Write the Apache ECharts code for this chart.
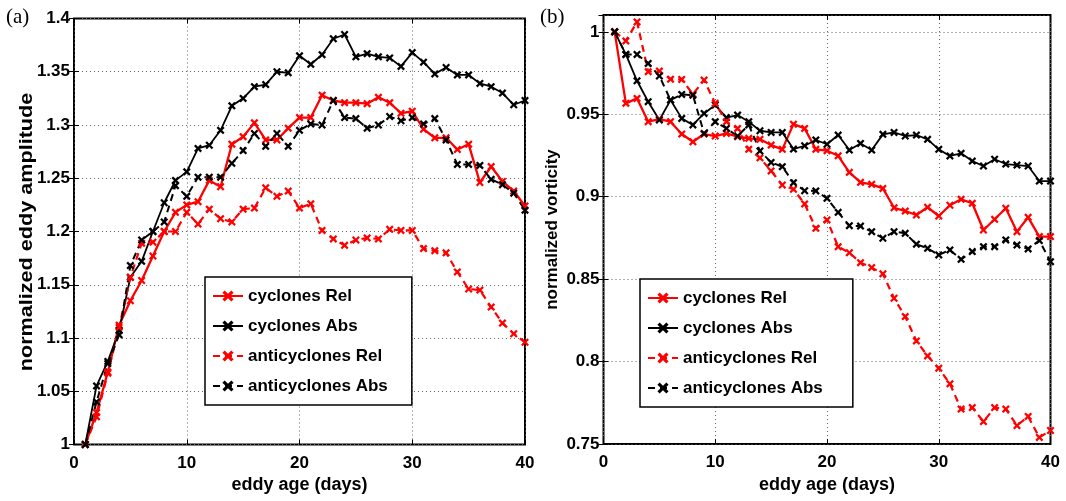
<!DOCTYPE html>
<html>
<head>
<meta charset="utf-8">
<script src="https://cdn.jsdelivr.net/npm/echarts@6/dist/echarts.min.js"></script>
<style>
html,body{margin:0;padding:0;background:#fff;}
#chart{width:1066px;height:501px;}
</style>
</head>
<body>
<div id="chart"></div>
<script>
const days = [1,2,3,4,5,6,7,8,9,10,11,12,13,14,15,16,17,18,19,20,21,22,23,24,25,26,27,28,29,30,31,32,33,34,35,36,37,38,39,40];
const seriesNames = ['cyclones Rel','cyclones Abs','anticyclones Rel','anticyclones Abs'];

// Panel (a): normalized eddy amplitude
const ampCycRel = [1.000,1.030,1.068,1.112,1.135,1.154,1.177,1.200,1.218,1.225,1.228,1.248,1.242,1.282,1.289,1.302,1.286,1.286,1.297,1.307,1.307,1.328,1.323,1.321,1.321,1.320,1.326,1.321,1.311,1.313,1.296,1.288,1.288,1.277,1.282,1.246,1.261,1.247,1.238,1.224];
const ampCycAbs = [1.000,1.055,1.078,1.107,1.157,1.172,1.200,1.227,1.248,1.256,1.278,1.281,1.295,1.318,1.325,1.336,1.338,1.350,1.349,1.365,1.357,1.366,1.381,1.385,1.364,1.367,1.364,1.363,1.355,1.368,1.359,1.348,1.354,1.347,1.347,1.339,1.336,1.330,1.319,1.323];
const ampAntiRel = [1.000,1.026,1.067,1.110,1.157,1.189,1.190,1.200,1.200,1.218,1.207,1.221,1.212,1.209,1.221,1.222,1.241,1.233,1.238,1.222,1.226,1.201,1.193,1.187,1.192,1.194,1.193,1.202,1.201,1.201,1.184,1.182,1.180,1.162,1.146,1.145,1.129,1.114,1.104,1.096];
const ampAntiAbs = [1.000,1.040,1.076,1.103,1.168,1.192,1.200,1.209,1.243,1.233,1.251,1.251,1.251,1.264,1.276,1.292,1.280,1.292,1.280,1.295,1.301,1.300,1.323,1.307,1.306,1.297,1.300,1.308,1.304,1.307,1.301,1.306,1.286,1.263,1.263,1.262,1.249,1.244,1.236,1.220];

// Panel (b): normalized vorticity
const vorCycRel = [1.000,0.9566,0.9596,0.9455,0.947,0.9455,0.938,0.9333,0.938,0.9368,0.9384,0.9364,0.9354,0.9348,0.9313,0.9287,0.944,0.9414,0.9287,0.9279,0.9248,0.9148,0.9087,0.9075,0.905,0.8933,0.8913,0.8889,0.8936,0.8883,0.8948,0.8984,0.896,0.8798,0.8863,0.893,0.8788,0.8875,0.8758,0.8758];
const vorCycAbs = [1.000,0.9863,0.9703,0.9576,0.9465,0.9586,0.9475,0.9435,0.9505,0.9556,0.948,0.9495,0.9455,0.940,0.939,0.939,0.9289,0.9309,0.9344,0.9318,0.9374,0.9283,0.9323,0.9283,0.9378,0.939,0.9368,0.9374,0.9348,0.9287,0.9247,0.9263,0.9216,0.9186,0.9227,0.9198,0.9192,0.9186,0.9095,0.9095];
const vorAntiRel = [1.000,0.9945,1.006,0.9758,0.9762,0.9713,0.9711,0.9622,0.9707,0.9566,0.9455,0.9414,0.9287,0.9236,0.9156,0.9071,0.9045,0.8956,0.8808,0.8859,0.8697,0.866,0.860,0.857,0.8532,0.8384,0.8273,0.8125,0.8034,0.796,0.7865,0.7712,0.7721,0.7636,0.7721,0.7712,0.7612,0.7667,0.754,0.7582];
const vorAntiAbs = [1.000,0.9863,0.9863,0.9808,0.9732,0.9586,0.962,0.9616,0.9384,0.9455,0.9414,0.9368,0.9435,0.9277,0.9208,0.9182,0.9085,0.9036,0.9035,0.899,0.8905,0.8824,0.8822,0.8788,0.8748,0.8788,0.8778,0.8712,0.8687,0.8647,0.8677,0.862,0.8667,0.8697,0.8697,0.8738,0.8707,0.8683,0.8734,0.8606];

const xTicks = [0,10,20,30,40];
const ampTicks = [1,1.05,1.1,1.15,1.2,1.25,1.3,1.35,1.4];
const vorTicks = [0.75,0.8,0.85,0.9,0.95,1];

const FONT = '"Liberation Sans", Arial, sans-serif';
const XMARK = 'path://M2,0 L5,3 L8,0 L10,2 L7,5 L10,8 L8,10 L5,7 L2,10 L0,8 L3,5 L0,2 Z';
const styles = [
  {color:'#ff0000', type:'solid', width:2.3},
  {color:'#000000', type:'solid', width:1.8},
  {color:'#ff0000', type:[7,5], width:2.2},
  {color:'#000000', type:[7,5], width:2.0}
];

function pairs(vals){ return days.map((d,i)=>[d, vals[i]]); }

function mkSeries(name, vals, idx, st){
  return {
    name: name, type:'line', xAxisIndex: idx, yAxisIndex: idx,
    data: pairs(vals),
    symbol: XMARK, symbolSize: 8, showSymbol: true,
    lineStyle: {color: st.color, width: st.width, type: st.type},
    itemStyle: {color: st.color},
    emphasis: {disabled: true},
    animation: false, z: 3
  };
}

const grids = [
  {left:74, top:18.5, right:541, bottom:56.5, show:true, borderColor:'#000', borderWidth:2},
  {left:603.5, top:15, right:15.5, bottom:57, show:true, borderColor:'#000', borderWidth:2}
];

const gridLine = {show:true, lineStyle:{color:'#666', type:[1,3], width:1}};
const tickLbl = {fontFamily: FONT, fontWeight:'bold', fontSize:17, color:'#000'};
const nameStyle = {fontFamily:FONT, fontWeight:'bold', fontSize:18, color:'#000'};

function xAxisMain(gi){
  return {type:'value', gridIndex:gi, min:xTicks[0], max:xTicks[xTicks.length-1], interval:10, position:'bottom',
    axisLine:{show:false}, axisTick:{show:true, inside:true, length:5, lineStyle:{color:'#000', width:1}},
    axisLabel:Object.assign({margin:10}, tickLbl), splitLine:gridLine,
    name:'eddy age (days)', nameLocation:'middle', nameGap:32, nameTextStyle:nameStyle};
}
function xAxisTop(gi){
  return {type:'value', gridIndex:gi, min:0, max:40, interval:10, position:'top',
    axisLine:{show:false}, axisTick:{show:true, inside:true, length:5, lineStyle:{color:'#000', width:1}},
    axisLabel:{show:false}, splitLine:{show:false}};
}

const legendText = {fontFamily:FONT, fontWeight:'bold', fontSize:17, color:'#000', lineHeight:20};

const option = {
  animation:false,
  backgroundColor:'#fff',
  title:[
    {text:'(a)', left:1, top:2, textStyle:{fontFamily:'"Liberation Serif", "Times New Roman", serif', fontWeight:'normal', fontSize:21, color:'#000'}},
    {text:'(b)', left:535, top:2, textStyle:{fontFamily:'"Liberation Serif", "Times New Roman", serif', fontWeight:'normal', fontSize:21, color:'#000'}}
  ],
  graphic:[
    {type:'text', x:27, y:232, rotation:Math.PI/2, scaleX:1.2, silent:true,
     style:{text:'normalized eddy amplitude', font:'bold 18px "Liberation Sans", Arial, sans-serif', fill:'#000',
            align:'center', verticalAlign:'middle', textAlign:'center', textVerticalAlign:'middle'}}
  ],
  grid: grids,
  legend:[
    {data:seriesNames, orient:'vertical', left:205, top:277, itemWidth:30, itemHeight:14, itemGap:10,
     padding:[9,24,9,7], borderColor:'#000', borderWidth:1.5, backgroundColor:'#fff',
     textStyle:legendText, selectedMode:false},
    {data:seriesNames, orient:'vertical', left:640, top:279, itemWidth:30, itemHeight:14, itemGap:10,
     padding:[9,30,9,7], borderColor:'#000', borderWidth:1.5, backgroundColor:'#fff',
     textStyle:legendText, selectedMode:false}
  ],
  xAxis:[ xAxisMain(0), xAxisMain(1), xAxisTop(0), xAxisTop(1) ],
  yAxis:[
    {type:'value', gridIndex:0, min:ampTicks[0], max:ampTicks[ampTicks.length-1], interval:0.05, position:'left',
     axisLine:{show:false}, axisTick:{show:true, inside:true, length:5, lineStyle:{color:'#000', width:1}},
     axisLabel:Object.assign({margin:4}, tickLbl), splitLine:gridLine},
    {type:'value', gridIndex:1, min:vorTicks[0], max:1.0102, interval:0.05, position:'left',
     axisLine:{show:false}, axisTick:{show:true, inside:true, length:5, lineStyle:{color:'#000', width:1}},
     axisLabel:Object.assign({margin:4, showMaxLabel:false}, tickLbl), splitLine:gridLine,
     name:'normalized vorticity', nameLocation:'middle', nameGap:43, nameRotate:90,
     nameTextStyle:{fontFamily:FONT, fontWeight:'bold', fontSize:17, color:'#000'}},
    {type:'value', gridIndex:0, min:1, max:1.4, interval:0.05, position:'right',
     axisLine:{show:false}, axisTick:{show:true, inside:true, length:5, lineStyle:{color:'#000', width:1}},
     axisLabel:{show:false}, splitLine:{show:false}},
    {type:'value', gridIndex:1, min:0.75, max:1.0102, interval:0.05, position:'right',
     axisLine:{show:false}, axisTick:{show:true, inside:true, length:5, lineStyle:{color:'#000', width:1}},
     axisLabel:{show:false}, splitLine:{show:false}}
  ],
  series:[
    mkSeries(seriesNames[0], ampCycRel, 0, styles[0]),
    mkSeries(seriesNames[1], ampCycAbs, 0, styles[1]),
    mkSeries(seriesNames[2], ampAntiRel, 0, styles[2]),
    mkSeries(seriesNames[3], ampAntiAbs, 0, styles[3]),
    mkSeries(seriesNames[0], vorCycRel, 1, styles[0]),
    mkSeries(seriesNames[1], vorCycAbs, 1, styles[1]),
    mkSeries(seriesNames[2], vorAntiRel, 1, styles[2]),
    mkSeries(seriesNames[3], vorAntiAbs, 1, styles[3])
  ]
};

const chart = echarts.init(document.getElementById('chart'), null, {renderer:'canvas'});
chart.setOption(option);
</script>
</body>
</html>
